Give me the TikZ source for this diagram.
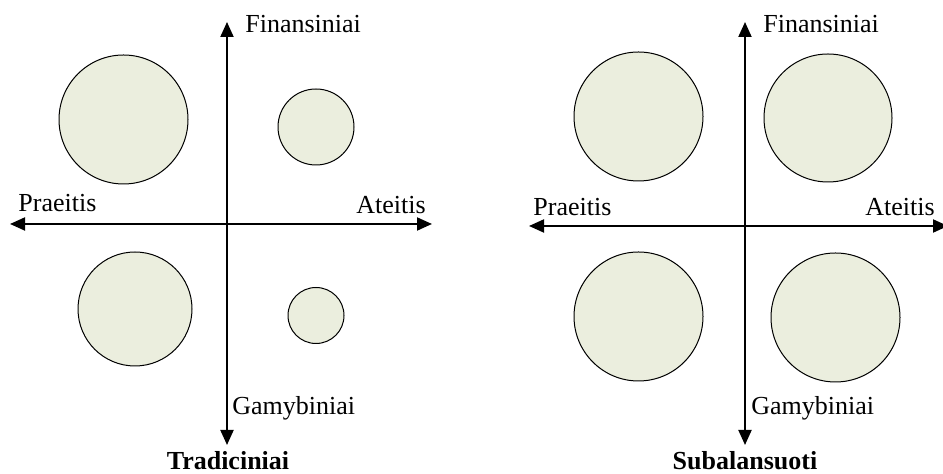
\documentclass[tikz,border=0pt]{standalone}
\usepackage{fontspec}
\setmainfont{Liberation Serif}
\usetikzlibrary{arrows.meta}
\definecolor{circfill}{RGB}{235,238,222}
\tikzset{
  axis/.style={line width=1pt,{Triangle[length=7.5pt,width=6.5pt]}-{Triangle[length=7.5pt,width=6.5pt]}},
  circ/.style={circle,draw=black,line width=0.5pt,fill=circfill,inner sep=0pt,outer sep=0pt,minimum size=#1*1pt},
  lbl/.style={inner sep=0pt,font=\fontsize{13pt}{15pt}\selectfont},
  ttl/.style={inner sep=0pt,font=\fontsize{13pt}{15pt}\selectfont\bfseries}
}
\begin{document}
\begin{tikzpicture}[x=0.5pt,y=-0.5pt]
\useasboundingbox (0,0) rectangle (943,474);
% circles left (value = radius in px = diameter in pt)
\node[circ=64.5] (l1) at (123.5,119.5) {};
\node[circ=38] (l2) at (316,127) {};
\node[circ=57] (l3) at (135,309) {};
\node[circ=28] (l4) at (316,315.5) {};
% circles right
\node[circ=64.5] (r1) at (638.5,116.5) {};
\node[circ=64] (r2) at (828,118) {};
\node[circ=64.5] (r3) at (638.5,316.5) {};
\node[circ=64.5] (r4) at (835.5,317.5) {};
% axes left
\coordinate (lW) at (10,224);
\coordinate (lE) at (432,224);
\coordinate (lN) at (227,22);
\coordinate (lS) at (227,445);
\draw[axis] (lW) -- (lE);
\draw[axis] (lS) -- (lN);
% axes right
\coordinate (rW) at (529,226);
\coordinate (rE) at (948,226);
\coordinate (rN) at (745,22);
\coordinate (rS) at (745,445);
\draw[axis] (rW) -- (rE);
\draw[axis] (rS) -- (rN);
% labels left
\node[lbl,anchor=base west] (lf) at (245,33) {Finansiniai};
\node[lbl,anchor=base west] (lp) at (18,212) {Praeitis};
\node[lbl,anchor=base east] (la) at (426,214) {Ateitis};
\node[lbl,anchor=base west] (lg) at (232,415) {Gamybiniai};
\node[ttl,anchor=base] (lt) at (228,470) {Tradiciniai};
% labels right
\node[lbl,anchor=base west] (rf) at (763,33) {Finansiniai};
\node[lbl,anchor=base west] (rp) at (533,216) {Praeitis};
\node[lbl,anchor=base east] (ra) at (935,216) {Ateitis};
\node[lbl,anchor=base west] (rg) at (751,415) {Gamybiniai};
\node[ttl,anchor=base] (rt) at (745,470) {Subalansuoti};
\end{tikzpicture}
\end{document}
